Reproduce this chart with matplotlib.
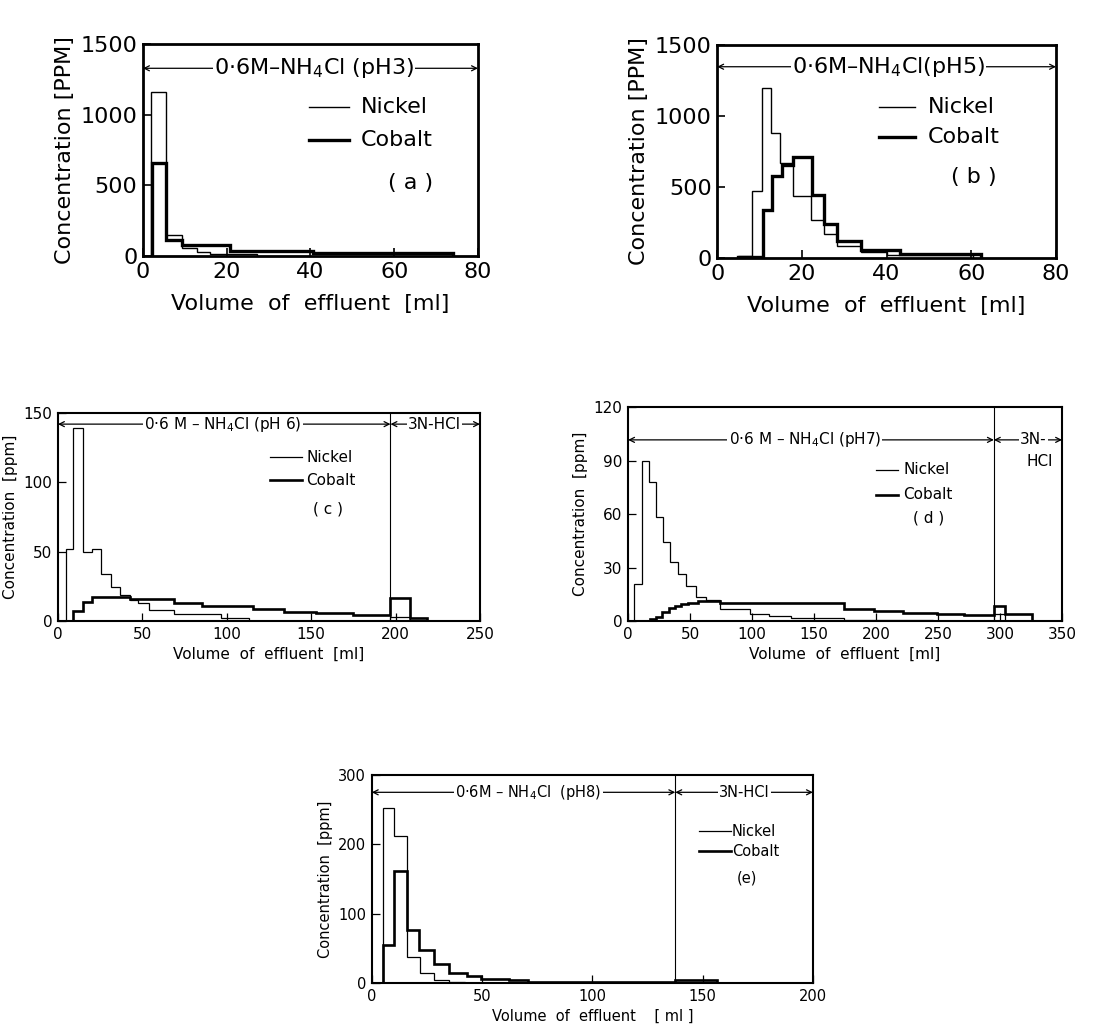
import matplotlib
matplotlib.use("Agg")
import matplotlib.pyplot as plt

plt.rcParams["font.family"] = ["DejaVu Sans"]

# ── Panel (a): 0.6M-NH4Cl pH 3 ───────────────────────────────────────
A_NI_EDGES = [1.8, 5.4, 9.2, 12.9, 16.1, 27.3]
A_NI_VALS  = [1160, 150, 56, 31, 14]
A_CO_EDGES = [2.2, 5.5, 9.2, 20.7, 40.6, 74.0]
A_CO_VALS  = [660, 115, 78, 35, 22]

# ── Panel (b): pH 5 ──────────────────────────────────────────────────
B_NI_EDGES = [5.0, 8.2, 10.5, 12.8, 14.8, 17.8, 22.1, 25.2, 28.3, 33.9, 40.0, 60.5]
B_NI_VALS  = [15, 470, 1200, 877, 670, 437, 266, 167, 82, 42, 24]
B_CO_EDGES = [5.0, 10.9, 13.0, 15.2, 17.8, 22.3, 25.2, 28.3, 33.9, 43.1, 62.4]
B_CO_VALS  = [10, 341, 578, 658, 712, 442, 242, 120, 54, 30]

# ── Panel (c): pH 6, then 3N-HCl ─────────────────────────────────────
C_NI_EDGES = [4.9, 9.2, 14.7, 20.2, 25.6, 31.2, 36.9, 42.5, 47.2, 53.7, 68.7,
              96.6, 113.4, 197.0, 208.6]
C_NI_VALS  = [52, 139, 50, 52, 34.3, 24.7, 18.7, 15.1, 12.7, 7.9, 4.8, 1.9,
              0.4, 3.0]
C_CO_EDGES = [9.2, 14.7, 20.2, 42.5, 68.7, 85.4, 115.3, 134.0, 152.6, 175.0,
              197.0, 208.6, 218.8]
C_CO_VALS  = [7, 14, 17.5, 16, 12.7, 11, 8.5, 6.8, 5.5, 4.3, 17, 2]

# ── Panel (d): pH 7, then 3N-HCl ─────────────────────────────────────
D_NI_EDGES = [4.6, 11.6, 16.9, 22.8, 28.2, 33.6, 40.3, 46.5, 54.6, 63.2, 74.0,
              98.7, 114.0, 131.0, 174.0, 246.0, 295.0, 304.0]
D_NI_VALS  = [21, 90, 78, 58.5, 44.4, 33.2, 26.6, 19.5, 13.5, 11.6, 6.5, 3.7,
              2.8, 1.9, 0.4, 0, 3.7]
D_CO_EDGES = [17.5, 22.5, 27.5, 32.6, 37.8, 43.0, 48.0, 56.0, 63.5, 74.0, 114.0,
              174.0, 198.0, 222.0, 249.0, 271.0, 295.0, 304.0, 326.0]
D_CO_VALS  = [1, 2.5, 5, 7.5, 8.5, 9.5, 10.3, 11, 11.5, 10, 10.2, 6.9, 5.6,
              4.7, 3.7, 3.4, 8.2, 4]

# ── Panel (e): pH 8, then 3N-HCl ─────────────────────────────────────
E_NI_EDGES = [5.0, 10.2, 15.8, 21.9, 28.0, 34.8, 42.3, 137.6, 156.5]
E_NI_VALS  = [252, 212, 37, 15, 5, 2, 0, 2]
E_CO_EDGES = [5.0, 10.2, 15.8, 21.5, 28.0, 35.0, 43.0, 49.6, 62.0, 71.0, 90.7,
              137.6, 156.5]
E_CO_VALS  = [55, 162, 76, 47, 28, 15, 10, 6.5, 4, 2, 1, 5]


def draw_header(ax, x0, x1, y, label, xc, fs):
    ax.annotate("", xy=(x0, y), xytext=(x1, y),
                arrowprops=dict(arrowstyle="<->", lw=0.9, color="k",
                                shrinkA=0, shrinkB=0, mutation_scale=9))
    ax.text(xc, y, label, ha="center", va="center", fontsize=fs,
            bbox=dict(fc="white", ec="none", pad=0.8))


def draw_legend(ax, x0, x1, y_ni, y_co, xt, tag_xy, fs, lw_ni, lw_co, tag):
    ax.plot([x0, x1], [y_ni, y_ni], color="k", lw=lw_ni)
    ax.plot([x0, x1], [y_co, y_co], color="k", lw=lw_co)
    ax.text(xt, y_ni, "Nickel", ha="left", va="center", fontsize=fs)
    ax.text(xt, y_co, "Cobalt", ha="left", va="center", fontsize=fs)
    ax.text(tag_xy[0], tag_xy[1], tag, ha="center", va="center", fontsize=fs)


def style_axes(ax, xlim, ylim, xticks, yticks, ylabel, fs, spine_lw):
    ax.set_xlim(*xlim)
    ax.set_ylim(*ylim)
    ax.set_xticks(xticks)
    ax.set_yticks(yticks)
    ax.tick_params(direction="in", labelsize=fs, width=spine_lw * 0.6,
                   length=6, pad=4)
    for s in ax.spines.values():
        s.set_linewidth(spine_lw)
        s.set_zorder(6)
    ax.set_ylabel(ylabel, fontsize=fs)
    ax.set_xlabel("Volume  of  effluent  [ml]", fontsize=fs)


fig = plt.figure(figsize=(11, 10.3), dpi=100)

# ── (a) ──────────────────────────────────────────────────────────────
ax = fig.add_axes([0.130, 0.7515, 0.3045, 0.2058])
ax.stairs(A_NI_VALS, A_NI_EDGES, baseline=0, color="k", lw=1.0)
ax.stairs(A_CO_VALS, A_CO_EDGES, baseline=0, color="k", lw=2.4)
style_axes(ax, (0, 80), (0, 1500), [0, 20, 40, 60, 80], [0, 500, 1000, 1500],
           "Concentration [PPM]", 16, 2.0)
ax.xaxis.set_label_coords(0.5, -0.18)
draw_header(ax, 0, 80, 1328, "0·6M–NH$_4$Cl (pH3)", 40.9, 16)
draw_legend(ax, 39.7, 49.3, 1056, 824, 52, (64, 513), 16, 1.0, 2.4, "( a )")

# ── (b) ──────────────────────────────────────────────────────────────
ax = fig.add_axes([0.652, 0.7495, 0.308, 0.2068])
ax.stairs(B_NI_VALS, B_NI_EDGES, baseline=0, color="k", lw=1.0)
ax.stairs(B_CO_VALS, B_CO_EDGES, baseline=0, color="k", lw=2.4)
style_axes(ax, (0, 80), (0, 1500), [0, 20, 40, 60, 80], [0, 500, 1000, 1500],
           "Concentration [PPM]", 16, 2.0)
ax.xaxis.set_label_coords(0.5, -0.18)
draw_header(ax, 0, 80, 1347, "0·6M–NH$_4$Cl(pH5)", 40.4, 16)
draw_legend(ax, 38.3, 46.7, 1060, 853, 49.8, (60.5, 571), 16, 1.0, 2.4, "( b )")

# ── (c) ──────────────────────────────────────────────────────────────
ax = fig.add_axes([0.0527, 0.397, 0.3836, 0.202])
ax.stairs(C_NI_VALS, C_NI_EDGES, baseline=0, color="k", lw=0.9)
ax.stairs(C_CO_VALS, C_CO_EDGES, baseline=0, color="k", lw=1.9)
ax.axvline(197, color="k", lw=0.8)
style_axes(ax, (0, 250), (0, 150), [0, 50, 100, 150, 200, 250], [0, 50, 100, 150],
           "Concentration  [ppm]", 11, 1.5)
draw_header(ax, 0, 197, 142, "0·6 M – NH$_4$Cl (pH 6)", 97.8, 11)
draw_header(ax, 197, 250, 142, "3N-HCl", 223, 11)
draw_legend(ax, 125.5, 144.3, 118.3, 101.5, 147, (160, 81), 11, 0.9, 1.9, "( c )")

# ── (d) ──────────────────────────────────────────────────────────────
ax = fig.add_axes([0.571, 0.397, 0.3945, 0.2078])
ax.stairs(D_NI_VALS, D_NI_EDGES, baseline=0, color="k", lw=0.9)
ax.stairs(D_CO_VALS, D_CO_EDGES, baseline=0, color="k", lw=1.9)
ax.axvline(295, color="k", lw=0.8)
style_axes(ax, (0, 350), (0, 120), [0, 50, 100, 150, 200, 250, 300, 350],
           [0, 30, 60, 90, 120], "Concentration  [ppm]", 11, 1.5)
draw_header(ax, 0, 295, 101.6, "0·6 M – NH$_4$Cl (pH7)", 142.5, 11)
draw_header(ax, 295, 350, 101.6, "3N-", 327, 11)
ax.text(332, 89.4, "HCl", ha="center", va="center", fontsize=11)
draw_legend(ax, 199.7, 217.7, 84.8, 70.7, 221.8, (242, 57.6), 11, 0.9, 1.9, "( d )")

# ── (e) ──────────────────────────────────────────────────────────────
ax = fig.add_axes([0.338, 0.0456, 0.401, 0.202])
ax.stairs(E_NI_VALS, E_NI_EDGES, baseline=0, color="k", lw=0.9)
ax.stairs(E_CO_VALS, E_CO_EDGES, baseline=0, color="k", lw=1.9)
ax.axvline(137.6, color="k", lw=0.8)
style_axes(ax, (0, 200), (0, 300), [0, 50, 100, 150, 200], [0, 100, 200, 300],
           "Concentration  [ppm]", 10.5, 1.5)
ax.set_xlabel("Volume  of  effluent    [ ml ]", fontsize=10.5)
draw_header(ax, 0, 137.6, 275, "0·6M – NH$_4$Cl  (pH8)", 71, 10.5)
draw_header(ax, 137.6, 200, 275, "3N-HCl", 169, 10.5)
draw_legend(ax, 148.5, 163, 219, 190, 163.3, (170, 151), 10.5, 0.9, 1.9, "(e)")

fig.savefig("out.png", dpi=100, facecolor="white")
